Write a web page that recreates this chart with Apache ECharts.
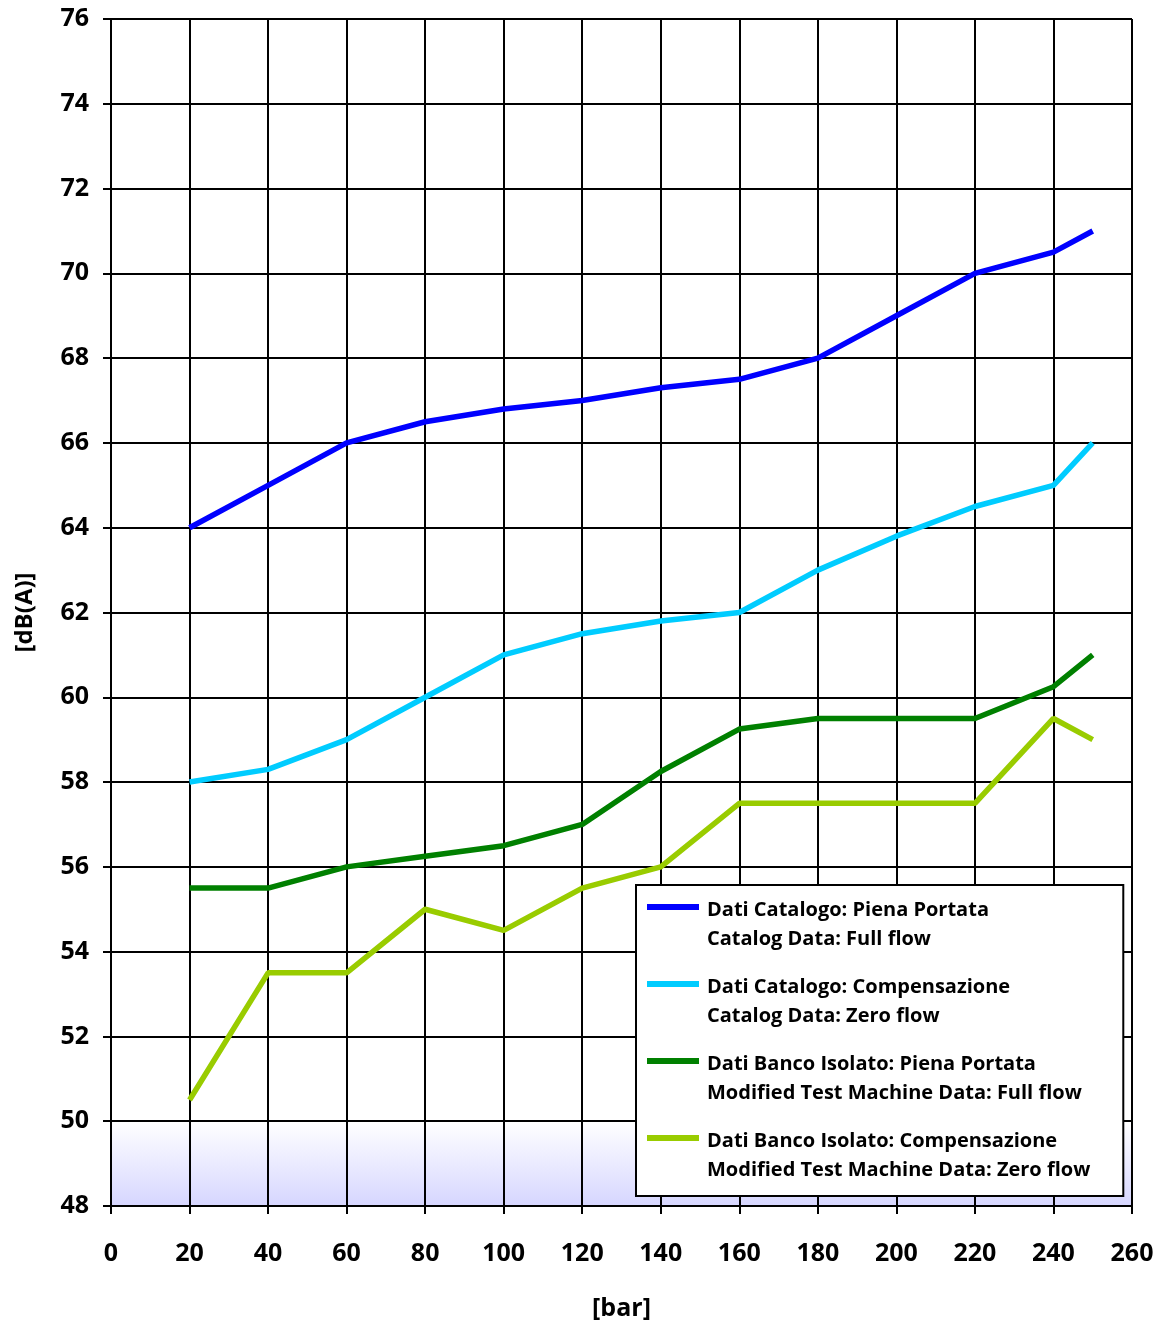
<!DOCTYPE html>
<html>
<head>
<meta charset="utf-8">
<script src="https://cdn.jsdelivr.net/npm/echarts@6/dist/echarts.min.js"></script>
<style>html,body{margin:0;padding:0;background:#fff;}#c{width:1164px;height:1326px;}</style>
</head>
<body>
<div id="c"></div>
<script>
const pressure = [20, 40, 60, 80, 100, 120, 140, 160, 180, 200, 220, 240, 250];
const catalogFull = [64, 65, 66, 66.5, 66.8, 67, 67.3, 67.5, 68, 69, 70, 70.5, 71];
const catalogZero = [58, 58.3, 59, 60, 61, 61.5, 61.8, 62, 63, 63.8, 64.5, 65, 66];
const benchFull = [55.5, 55.5, 56, 56.25, 56.5, 57, 58.25, 59.25, 59.5, 59.5, 59.5, 60.25, 61];
const benchZero = [50.5, 53.5, 53.5, 55, 54.5, 55.5, 56, 57.5, 57.5, 57.5, 57.5, 59.5, 59];
const seriesNames = [
  'Dati Catalogo: Piena Portata\nCatalog Data: Full flow',
  'Dati Catalogo: Compensazione\nCatalog Data: Zero flow',
  'Dati Banco Isolato: Piena Portata\nModified Test Machine Data: Full flow',
  'Dati Banco Isolato: Compensazione\nModified Test Machine Data: Zero flow'
];
const seriesValues = [catalogFull, catalogZero, benchFull, benchZero];
const seriesColors = ['#0000FF', '#00CCFF', '#008000', '#99CC00'];

const FONT = 'Open Sans';
const chart = echarts.init(document.getElementById('c'));
const legendIcon = 'path://M0,8L52,8L52,14L0,14Z M0,0L0.01,0L0,0.01Z M0,58L0.01,58L0,57.99Z';

chart.setOption({
  animation: false,
  backgroundColor: '#fff',
  grid: {
    left: 111, right: 32, top: 19, bottom: 119,
    show: true, borderWidth: 0,
    backgroundColor: new echarts.graphic.LinearGradient(0, 0, 0, 1, [
      {offset: 0, color: '#ffffff'},
      {offset: 26 / 28, color: '#ffffff'},
      {offset: 1, color: '#d6d6ff'}
    ])
  },
  xAxis: {
    type: 'value', min: 0, max: 260, interval: 20,
    name: '[bar]', nameLocation: 'middle', nameGap: 90,
    nameTextStyle: {fontFamily: FONT, fontWeight: 'bold', fontSize: 25, color: '#000'},
    axisLine: {show: true, lineStyle: {color: '#000', width: 2}},
    axisTick: {show: true, inside: false, length: 8, lineStyle: {color: '#000', width: 2}},
    axisLabel: {fontFamily: FONT, fontWeight: 'bold', fontSize: 25, color: '#000', margin: 35},
    splitLine: {show: true, lineStyle: {color: '#000', width: 2}}
  },
  yAxis: {
    type: 'value', min: 48, max: 76, interval: 2,
    name: '[dB(A)]', nameLocation: 'middle', nameGap: 74, nameRotate: 90,
    nameTextStyle: {fontFamily: FONT, fontWeight: 'bold', fontSize: 24, color: '#000'},
    axisLine: {show: true, lineStyle: {color: '#000', width: 2}},
    axisTick: {show: true, inside: false, length: 8, lineStyle: {color: '#000', width: 2}},
    axisLabel: {fontFamily: FONT, fontWeight: 'bold', fontSize: 25, color: '#000', margin: 22},
    splitLine: {show: true, lineStyle: {color: '#000', width: 2}}
  },
  legend: {
    orient: 'vertical',
    left: 636, top: 885,
    padding: [11, 33, 11, 11],
    backgroundColor: '#fff',
    borderColor: '#000', borderWidth: 2,
    itemWidth: 52, itemHeight: 58, itemGap: 19,
    icon: legendIcon,
    data: seriesNames,
    textStyle: {fontFamily: FONT, fontWeight: 'bold', fontSize: 20, color: '#000', lineHeight: 29, padding: [0, 0, 0, 3]},
    z: 10
  },
  series: seriesNames.map((name, i) => ({
    name: name,
    type: 'line',
    data: pressure.map((p, j) => [p, seriesValues[i][j]]),
    showSymbol: false,
    symbol: 'none',
    color: seriesColors[i],
    lineStyle: {color: seriesColors[i], width: 5.5},
    itemStyle: {color: seriesColors[i]}
  }))
});
</script>
</body>
</html>
